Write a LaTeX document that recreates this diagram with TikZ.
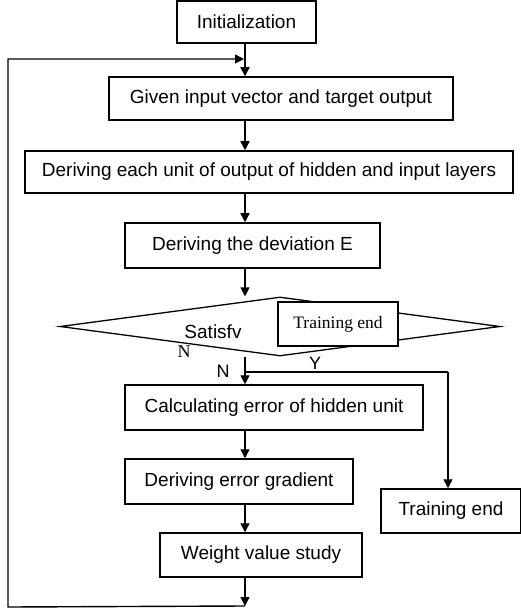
\documentclass[tikz,border=0pt]{standalone}
\usepackage{fontspec}
\setmainfont{Liberation Sans}
\newfontfamily\timesfont{Liberation Serif}
\usepackage{tikz}
\usetikzlibrary{positioning,calc,arrows.meta,shapes.geometric}

\tikzset{
  box/.style={rectangle,draw,line width=1.5pt,inner sep=0pt,font=\fontsize{19}{22}\selectfont},
  arr/.style={line width=1.4pt,-{Triangle[length=9pt,width=9pt]}},
  lin/.style={line width=1.4pt}
}

\begin{document}
\begin{tikzpicture}[x=1pt,y=1pt]
\useasboundingbox (0,0) rectangle (520,-609);
\coordinate (spine) at (245,0);
% main column
\node[box,minimum width=139pt,minimum height=42pt] (init) at (246.5,-22) {Initialization};
\node[box,minimum width=344pt,minimum height=43pt] (given) at (281,-98.5) {Given input vector and target output};
\node[box,minimum width=488pt,minimum height=42pt] (each) at (269,-172) {Deriving each unit of output of hidden and input layers};
\node[box,minimum width=255pt,minimum height=45pt] (dev) at (252.5,-245.5) {Deriving the deviation E};
\node[diamond,draw,line width=1.3pt,inner sep=0pt,minimum width=440pt,minimum height=59pt] (sat) at (280,-326.5) {};
\node[font=\fontsize{19}{22}\selectfont] (satl) at (213,-332) {Satisfv};
\node[box,fill=white,minimum width=120pt,minimum height=44pt,font=\timesfont\fontsize{17.5}{20}\selectfont] (tbox) at (338,-324) {Training end};
\node[box,minimum width=298pt,minimum height=45pt] (calc) at (274,-407.5) {Calculating error of hidden unit};
\node[box,minimum width=228pt,minimum height=45pt] (grad) at (239,-481.5) {Deriving error gradient};
\node[box,minimum width=202pt,minimum height=44pt] (wvs) at (261,-555) {Weight value study};
\node[box,minimum width=140pt,minimum height=44pt] (tend) at (451,-511) {Training end};
% labels
\node[font=\timesfont\fontsize{18}{20}\selectfont] (n1) at (184,-352) {N};
\node[font=\fontsize{18}{20}\selectfont] (n2) at (223,-371) {N};
\node[font=\fontsize{18}{20}\selectfont] (y1) at (315,-363) {Y};
% connectors
\coordinate (split) at (245,-372);
\coordinate (ybr) at (448,-372);
\coordinate (dtop) at (245,-357);
\coordinate (bot) at (245,-606);
\coordinate (lpb) at (8,-607);
\coordinate (lpt) at (8,-59);
\draw[arr] (init.south -| spine) -- (given.north -| spine);
\draw[arr] (given.south -| spine) -- (each.north -| spine);
\draw[arr] (each.south -| spine) -- (dev.north -| spine);
\draw[arr] (dev.south -| spine) -- (sat.north -| spine);
\draw[arr] (dtop) -- (calc.north -| spine);
\draw[lin] (split) -- (ybr);
\draw[arr] (ybr) -- (ybr |- tend.north);
\draw[arr] (calc.south -| spine) -- (grad.north -| spine);
\draw[arr] (grad.south -| spine) -- (wvs.north -| spine);
\draw[arr] (wvs.south -| spine) -- (bot);
\draw[arr] (bot) -- (lpb) -- (lpt) -- ($(lpt -| spine)+(-1,0)$);
\end{tikzpicture}
\end{document}
